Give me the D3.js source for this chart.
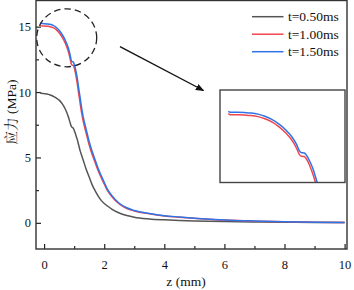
<!DOCTYPE html>
<html>
<head>
<meta charset="utf-8">
<script src="https://cdn.jsdelivr.net/npm/d3@7"></script>
<style>
  body { margin: 0; background: #fff; }
  svg { display: block; }
</style>
</head>
<body>
<svg id="chart" width="354" height="290"></svg>
<script>
// z positions (mm) shared by all three series
const zVals = [-0.13, -0.1, 0, 0.1, 0.2, 0.3, 0.4, 0.5, 0.6, 0.7, 0.8, 0.86, 0.9, 0.93, 0.97, 1.0, 1.05, 1.1, 1.15, 1.2,
  1.25, 1.3, 1.4, 1.5, 1.6, 1.7, 1.8, 1.9, 2.0, 2.1, 2.25, 2.5, 2.75, 3.0, 3.5, 4.0, 4.5, 5.0, 6.0, 7.0, 8.0, 9.0, 10.0];

const stress050 = [9.96, 9.90, 9.88, 9.85, 9.78, 9.68, 9.55, 9.38, 9.12, 8.72, 8.15, 7.70, 7.40, 7.30, 7.24, 7.08, 6.75, 6.40, 5.95, 5.50,
  5.15, 4.80, 4.10, 3.50, 2.90, 2.45, 2.05, 1.72, 1.48, 1.30, 1.05, 0.75, 0.56, 0.43, 0.30, 0.23, 0.18, 0.15, 0.10, 0.07, 0.05, 0.03, 0.02];
const stress100 = [15.14, 15.06, 15.05, 15.03, 15.00, 14.92, 14.77, 14.54, 14.20, 13.76, 13.15, 12.62, 12.18, 12.06, 12.04, 11.88, 11.38, 10.70, 9.88, 9.12,
  8.38, 7.78, 6.85, 5.95, 5.22, 4.60, 3.98, 3.45, 2.97, 2.50, 2.01, 1.44, 1.10, 0.91, 0.69, 0.53, 0.43, 0.35, 0.21, 0.13, 0.08, 0.04, 0.02];
const stress150 = [15.30, 15.24, 15.23, 15.21, 15.18, 15.10, 14.95, 14.72, 14.40, 13.98, 13.40, 12.90, 12.45, 12.32, 12.30, 12.15, 11.70, 11.10, 10.30, 9.55,
  8.75, 8.10, 7.15, 6.20, 5.45, 4.80, 4.15, 3.60, 3.10, 2.60, 2.10, 1.50, 1.15, 0.95, 0.72, 0.55, 0.45, 0.36, 0.22, 0.14, 0.08, 0.04, 0.02];

const seriesNames = ["t=0.50ms", "t=1.00ms", "t=1.50ms"];
const seriesColors = ["#555555", "#f0464e", "#2f74e6"];
const xTicks = [0, 2, 4, 6, 8, 10];
const yTicks = [0, 5, 10, 15];
const xLabel = "z (mm)";
const yLabel = "应力 (MPa)";

const FONT = "'Liberation Serif', serif";
const FONT_CJK = "'Liberation Serif', 'Noto Serif CJK SC', serif";

const series = [stress050, stress100, stress150].map((vals, i) => ({
  name: seriesNames[i],
  color: seriesColors[i],
  points: zVals.map((z, j) => [z, vals[j]])
}));

const svg = d3.select("#chart");
const LEFT = 36, RIGHT = 347, TOP = 0.5, BOTTOM = 249;

const x = d3.scaleLinear().domain([-0.27, 10.08]).range([LEFT, RIGHT]);
const y = d3.scaleLinear().domain([-2, 17]).range([BOTTOM, TOP]);

// minor ticks first, then the labelled ones
svg.append("g")
  .attr("transform", `translate(0,${BOTTOM})`)
  .call(d3.axisBottom(x).tickValues([1, 3, 5, 7, 9]).tickSize(-3).tickFormat(""))
  .call(g => g.select(".domain").remove());
svg.append("g")
  .attr("transform", `translate(${LEFT},0)`)
  .call(d3.axisLeft(y).tickValues([2.5, 7.5, 12.5]).tickSize(-3).tickFormat(""))
  .call(g => g.select(".domain").remove());

const xAxis = svg.append("g")
  .attr("transform", `translate(0,${BOTTOM})`)
  .call(d3.axisBottom(x).tickValues(xTicks).tickSize(-5).tickPadding(11).tickFormat(d3.format("d")));
xAxis.select(".domain").remove();

const yAxis = svg.append("g")
  .attr("transform", `translate(${LEFT},0)`)
  .call(d3.axisLeft(y).tickValues(yTicks).tickSize(-5).tickPadding(5).tickFormat(d3.format("d")));
yAxis.select(".domain").remove();

svg.selectAll("g").attr("font-family", FONT);
svg.selectAll(".tick text")
  .style("font-family", FONT)
  .style("font-size", "12.5px")
  .attr("fill", "#111");
svg.selectAll(".tick line").attr("stroke", "#222").attr("stroke-width", 1.2);

const line = d3.line()
  .x(d => x(d[0]))
  .y(d => y(d[1]))
  .curve(d3.curveMonotoneX);

svg.append("g").selectAll("path")
  .data(series)
  .join("path")
  .attr("d", d => line(d.points))
  .attr("fill", "none")
  .attr("stroke", d => d.color)
  .attr("stroke-width", 1.5);

svg.append("rect")
  .attr("x", LEFT).attr("y", TOP)
  .attr("width", RIGHT - LEFT).attr("height", BOTTOM - TOP)
  .attr("fill", "none").attr("stroke", "#333").attr("stroke-width", 1.4);

// axis titles
svg.append("text")
  .attr("x", 186).attr("y", 286)
  .attr("text-anchor", "middle")
  .style("font-family", FONT)
  .style("font-size", "13.5px")
  .attr("fill", "#111")
  .text(xLabel);
svg.append("text")
  .attr("transform", "translate(11,112) rotate(-90)")
  .attr("text-anchor", "middle")
  .attr("dominant-baseline", "central")
  .style("font-family", FONT_CJK)
  .style("font-size", "13.5px")
  .attr("fill", "#111")
  .text(yLabel);

// legend
const legend = svg.append("g").selectAll("g")
  .data(series)
  .join("g")
  .attr("transform", (d, i) => `translate(252,${16.7 + i * 17.5})`);
legend.append("line")
  .attr("x1", 0).attr("x2", 31.5)
  .attr("stroke", d => d.color).attr("stroke-width", 1.5);
legend.append("text")
  .attr("x", 36).attr("dy", "0.35em")
  .style("font-family", FONT)
  .style("font-size", "13.5px")
  .attr("fill", "#111")
  .text(d => d.name);

// dashed circle + arrow pointing at the zoomed inset
svg.append("ellipse")
  .attr("cx", 66.7).attr("cy", 37.8).attr("rx", 30).attr("ry", 29)
  .attr("fill", "none").attr("stroke", "#222").attr("stroke-width", 1.3)
  .attr("stroke-dasharray", "6.5,4");

svg.append("defs").append("marker")
  .attr("id", "arrow")
  .attr("viewBox", "0 0 10 10")
  .attr("refX", 9).attr("refY", 5)
  .attr("markerWidth", 6).attr("markerHeight", 6)
  .attr("orient", "auto")
  .append("path")
  .attr("d", "M0,1 L10,5 L0,9 z")
  .attr("fill", "#111");

svg.append("line")
  .attr("x1", 120).attr("y1", 46.7).attr("x2", 203.5).attr("y2", 90.5)
  .attr("stroke", "#111").attr("stroke-width", 1.4)
  .attr("marker-end", "url(#arrow)");

// inset: zoom of the peak region
const IN_L = 220, IN_R = 345, IN_T = 90, IN_B = 182.5;
const xIn = d3.scaleLinear().domain([-0.25, 1.56]).range([IN_L, IN_R]);
const yIn = d3.scaleLinear().domain([10.17, 16.84]).range([IN_B, IN_T]);

svg.select("defs").append("clipPath")
  .attr("id", "inset-clip")
  .append("rect")
  .attr("x", IN_L).attr("y", IN_T)
  .attr("width", IN_R - IN_L).attr("height", IN_B - IN_T);

const lineIn = d3.line()
  .x(d => xIn(d[0]))
  .y(d => yIn(d[1]))
  .curve(d3.curveMonotoneX);

svg.append("rect")
  .attr("x", IN_L).attr("y", IN_T)
  .attr("width", IN_R - IN_L).attr("height", IN_B - IN_T)
  .attr("fill", "#fff");

svg.append("g")
  .attr("clip-path", "url(#inset-clip)")
  .selectAll("path")
  .data(series.slice(1))
  .join("path")
  .attr("d", d => lineIn(d.points))
  .attr("fill", "none")
  .attr("stroke", d => d.color)
  .attr("stroke-width", 1.5);

svg.append("rect")
  .attr("x", IN_L).attr("y", IN_T)
  .attr("width", IN_R - IN_L).attr("height", IN_B - IN_T)
  .attr("fill", "none").attr("stroke", "#444").attr("stroke-width", 1.4);
</script>
</body>
</html>
